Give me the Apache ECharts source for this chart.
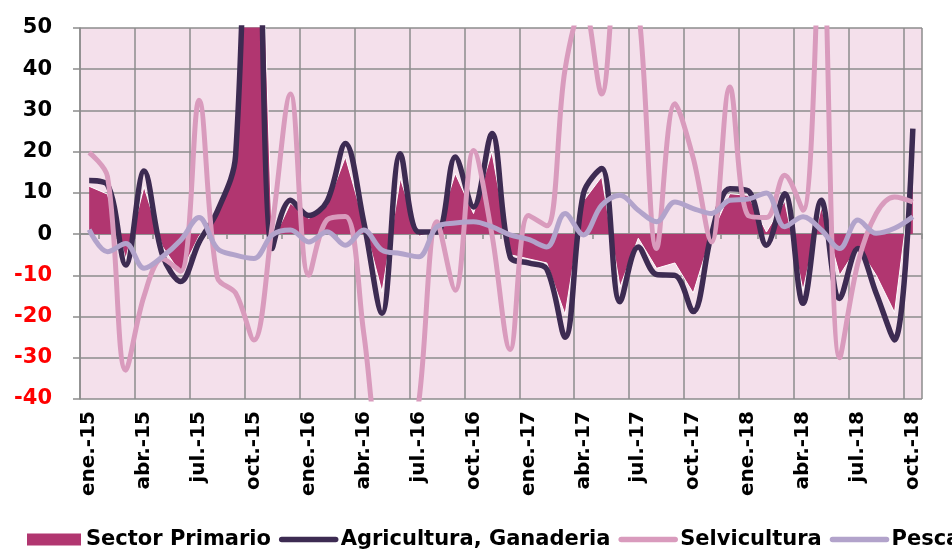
<!DOCTYPE html>
<html>
<head>
<meta charset="utf-8">
<script src="https://cdn.jsdelivr.net/npm/echarts@6/dist/echarts.min.js"></script>
<style>
  html, body { margin: 0; padding: 0; background: #ffffff; }
  #chart { width: 952px; height: 559px; }
</style>
</head>
<body>
<div id="chart"></div>
<script>
// Monthly year-on-year variation (%), primary sector and its branches
const months = [
  'ene.-15','feb.-15','mar.-15','abr.-15','may.-15','jun.-15','jul.-15','ago.-15','sep.-15','oct.-15','nov.-15','dic.-15',
  'ene.-16','feb.-16','mar.-16','abr.-16','may.-16','jun.-16','jul.-16','ago.-16','sep.-16','oct.-16','nov.-16','dic.-16',
  'ene.-17','feb.-17','mar.-17','abr.-17','may.-17','jun.-17','jul.-17','ago.-17','sep.-17','oct.-17','nov.-17','dic.-17',
  'ene.-18','feb.-18','mar.-18','abr.-18','may.-18','jun.-18','jul.-18','ago.-18','sep.-18','oct.-18'
];

const sectorPrimario = [
  11.6, 9.7, -6, 11.5, -3, -9.5, -0.5, 5, 17, 138, -2, 7.5,
  3.8, 7, 18.7, 3, -14, 13.5, -0.5, 0.5, 14.7, 5, 20, -5,
  -6, -7, -19.5, 8, 13.9, -12.8, -1, -8.3, -7, -14.3, 0, 9.8,
  9.4, 0.5, 8, -13.6, 6.6, -10, -3, -10, -19, 16
];

const agricultura = [
  13, 12, -7.5, 15.3, -5, -11.5, -2, 5.5, 19, 140, -3.5, 8.2,
  4.5, 8, 22, 3, -19.2, 19.5, 0.5, 0.5, 18.7, 6.6, 24.4, -5.5,
  -7, -8.5, -25, 9.8, 15.9, -16.4, -3.1, -9.8, -10, -18.8, 0, 11,
  10.5, -2.7, 9.8, -16.8, 8.2, -15.6, -3.5, -14.4, -25.7, 25.6
];

const selvicultura = [
  19.8, 14, -33, -15, -6, -9, 32.5, -10.5, -14.3, -25.7, 2, 34,
  -10, 3.5, 4.3, -24, -58, -62, -41, 3, -13.6, 20.3, 0, -28,
  4.5, 2, 40, 56, 34, 70, 55, -3.5, 31.6, 18.5, -1.9, 35.7,
  4.5, 4, 14.3, 5.8, 75, -30, -7, 5, 9, 7.8
];

const pesca = [
  1.1, -4.3, -2.3, -8.3, -5.5, -1.5, 4, -3.5, -5.1, -5.9, -0.2, 1,
  -1.9, 0.6, -2.7, 1, -3.9, -4.7, -5.5, 1.8, 2.7, 3, 1.8, -0.2,
  -1.3, -3.1, 5, -0.2, 7, 9.4, 5.8, 3, 7.8, 6.2, 5, 8.2,
  8.5, 10, 1.8, 4.2, 1, -3.5, 3.4, 0.2, 1.4, 4.2
];

const yTicks = { min: -40, max: 50, step: 10 };

const COLORS = {
  primario: '#b13670',
  agricultura: '#3d2b52',
  selvicultura: '#d99bbd',
  pesca: '#b2a3cb',
  grid: '#8c8c8c',
  plotBg: '#f4e0eb'
};

const FONT = 'DejaVu Sans';
const SMOOTH = 0.35;

// legend entry drawn as a plain thick line (symbol hidden)
function lineLegend(name, color) {
  return {
    name: name,
    itemStyle: { opacity: 0 },
    lineStyle: { color: color, width: 5.5, cap: 'round', opacity: 1 }
  };
}

const chart = echarts.init(document.getElementById('chart'), null, { renderer: 'canvas' });

chart.setOption({
  animation: false,
  backgroundColor: '#ffffff',
  grid: {
    left: 80, right: 30, top: 28, bottom: 160,
    show: true, backgroundColor: COLORS.plotBg, borderWidth: 0
  },
  legend: {
    left: 27, top: 529, width: 1000,
    padding: 0,
    itemWidth: 54, itemHeight: 12, itemGap: 8,
    textStyle: { fontFamily: FONT, fontWeight: 'bold', fontSize: 21, color: '#000' },
    data: [
      { name: 'Sector Primario', icon: 'rect', itemStyle: { color: COLORS.primario, borderWidth: 0 } },
      lineLegend('Agricultura, Ganaderia', COLORS.agricultura),
      lineLegend('Selvicultura', COLORS.selvicultura),
      lineLegend('Pesca', COLORS.pesca)
    ]
  },
  xAxis: [
    {
      type: 'category',
      data: months,
      boundaryGap: true,
      position: 'bottom',
      axisLine: { show: false, onZero: false },
      axisTick: { show: false },
      axisLabel: {
        interval: 2, rotate: 90, margin: 12,
        padding: [6, 0, 0, 0],
        fontFamily: FONT, fontWeight: 'bold', fontSize: 20, color: '#000'
      },
      splitLine: { show: true, interval: 2, lineStyle: { color: COLORS.grid, width: 1.5 } }
    },
    {
      type: 'category',
      data: months,
      boundaryGap: true,
      position: 'top',
      axisLine: { show: true, onZero: true, lineStyle: { color: COLORS.grid, width: 1.5 } },
      axisTick: { show: true, interval: 0, inside: true, length: 5, lineStyle: { color: COLORS.grid, width: 1.5 } },
      axisLabel: { show: false },
      splitLine: { show: false }
    }
  ],
  yAxis: {
    type: 'value',
    min: yTicks.min, max: yTicks.max, interval: yTicks.step,
    axisLine: { show: true, lineStyle: { color: COLORS.grid, width: 1.5 } },
    axisTick: { show: true, length: 7, lineStyle: { color: COLORS.grid, width: 1.5 } },
    axisLabel: {
      margin: 28,
      fontFamily: FONT, fontWeight: 'bold', fontSize: 21,
      color: function (v) { return v < 0 ? '#ff0000' : '#000000'; }
    },
    splitLine: { show: true, lineStyle: { color: COLORS.grid, width: 1.5 } }
  },
  series: [
    {
      name: 'Sector Primario',
      type: 'line',
      data: sectorPrimario,
      smooth: false,
      symbol: 'none',
      itemStyle: { color: COLORS.primario },
      lineStyle: { color: '#ffffff', width: 1 },
      areaStyle: { color: COLORS.primario, opacity: 1 },
      z: 2
    },
    {
      name: 'Agricultura, Ganaderia',
      type: 'line',
      data: agricultura,
      smooth: SMOOTH,
      symbol: 'none',
      itemStyle: { color: COLORS.agricultura },
      lineStyle: { color: COLORS.agricultura, width: 5.5 },
      z: 3
    },
    {
      name: 'Selvicultura',
      type: 'line',
      data: selvicultura,
      smooth: SMOOTH,
      symbol: 'none',
      itemStyle: { color: COLORS.selvicultura },
      lineStyle: { color: COLORS.selvicultura, width: 5 },
      z: 4
    },
    {
      name: 'Pesca',
      type: 'line',
      data: pesca,
      smooth: SMOOTH,
      symbol: 'none',
      itemStyle: { color: COLORS.pesca },
      lineStyle: { color: COLORS.pesca, width: 5 },
      z: 5
    }
  ]
});
</script>
</body>
</html>
